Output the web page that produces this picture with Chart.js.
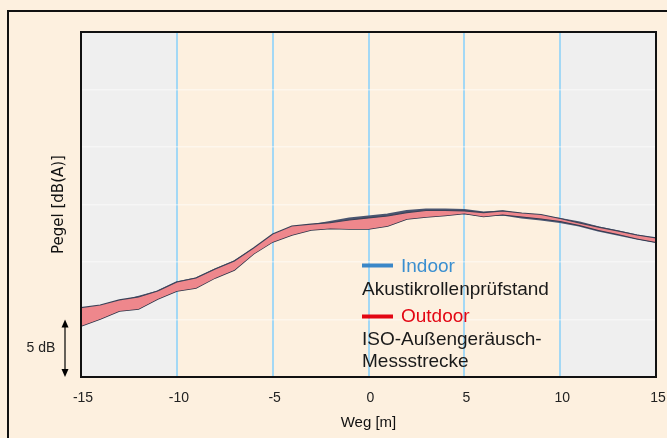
<!DOCTYPE html>
<html>
<head>
<meta charset="utf-8">
<script src="https://cdn.jsdelivr.net/npm/chart.js@4/dist/chart.umd.min.js"></script>
<style>
  html, body { margin: 0; padding: 0; background: #fdf0df; overflow: hidden; }
  #wrap { position: relative; width: 667px; height: 438px; }
  #frame { position: absolute; left: 7px; top: 10px; width: 700px; height: 460px; border: 2px solid #111; box-sizing: border-box; }
  canvas { position: absolute; left: 0; top: 0; }
</style>
</head>
<body>
<div id="wrap">
  <div id="frame"></div>
  <canvas id="c" width="667" height="438"></canvas>
</div>
<script>
// Weg [m]
const weg = [-15,-14,-13,-12,-11,-10,-9,-8,-7,-6,-5,-4,-3,-2,-1,0,1,2,3,4,5,6,7,8,9,10,11,12,13,14,15];
// Pegel, relative dB(A) (axis has no absolute labels; 5 dB per grid line)
const indoor = [5.48,5.87,6.35,6.83,7.30,8.09,8.44,9.22,9.91,10.96,12.09,12.61,13.04,13.35,13.65,13.83,14.00,14.30,14.44,14.44,14.39,14.17,14.26,14.00,13.83,13.61,13.30,12.87,12.52,12.17,11.87];
const outdoorMax = [6.03,6.26,6.70,6.96,7.48,8.26,8.61,9.39,10.09,11.22,12.44,13.13,13.30,13.43,13.65,13.83,14.00,14.30,14.48,14.48,14.44,14.30,14.44,14.26,14.13,13.78,13.39,13.04,12.70,12.35,12.09];
const outdoorMin = [4.43,5.04,5.74,5.91,6.78,7.48,7.74,8.61,9.30,10.70,11.74,12.35,12.78,12.91,12.87,12.87,13.13,13.74,13.91,14.04,14.22,13.96,14.13,13.96,13.78,13.57,13.22,12.78,12.44,12.04,11.74];
const xTicks = [-15,-10,-5,0,5,10,15];
const innerRange = [-10, 10];
const scaleBarDb = 5;

const toXY = arr => weg.map((x, i) => ({x: x, y: arr[i]}));

const bgPlugin = {
  id: 'bg',
  beforeDraw(chart) {
    const {ctx, chartArea: a, scales: {x}} = chart;
    const x1 = x.getPixelForValue(innerRange[0]);
    const x2 = x.getPixelForValue(innerRange[1]);
    ctx.save();
    ctx.fillStyle = '#efefef';
    ctx.fillRect(a.left, a.top, x1 - a.left, a.bottom - a.top);
    ctx.fillRect(x2, a.top, a.right - x2, a.bottom - a.top);
    ctx.restore();
  },
  afterDatasetsDraw(chart) {
    const {ctx, chartArea: a, scales: {y}} = chart;
    ctx.save();
    ctx.strokeStyle = '#111';
    ctx.lineWidth = 2;
    ctx.strokeRect(a.left, a.top, a.right - a.left, a.bottom - a.top);
    // 5 dB scale bar
    const ya = y.getPixelForValue(0), yb = y.getPixelForValue(scaleBarDb);
    const ax = 65;
    ctx.strokeStyle = '#000'; ctx.fillStyle = '#000'; ctx.lineWidth = 1.2;
    ctx.beginPath(); ctx.moveTo(ax, yb + 3); ctx.lineTo(ax, ya - 3); ctx.stroke();
    ctx.beginPath(); ctx.moveTo(ax, yb); ctx.lineTo(ax - 3.5, yb + 8); ctx.lineTo(ax + 3.5, yb + 8); ctx.closePath(); ctx.fill();
    ctx.beginPath(); ctx.moveTo(ax, ya); ctx.lineTo(ax - 3.5, ya - 8); ctx.lineTo(ax + 3.5, ya - 8); ctx.closePath(); ctx.fill();
    ctx.font = '14px "Liberation Sans", sans-serif';
    ctx.textAlign = 'center'; ctx.textBaseline = 'middle';
    ctx.fillStyle = '#222';
    ctx.fillText('5 dB', 41, (ya + yb) / 2);
    // legend
    const lx = 362;
    ctx.lineWidth = 4;
    ctx.strokeStyle = '#3a87c8';
    ctx.beginPath(); ctx.moveTo(lx, 265.5); ctx.lineTo(lx + 31, 265.5); ctx.stroke();
    ctx.strokeStyle = '#e30613';
    ctx.beginPath(); ctx.moveTo(lx, 316.5); ctx.lineTo(lx + 31, 316.5); ctx.stroke();
    ctx.textAlign = 'left'; ctx.textBaseline = 'alphabetic';
    ctx.font = '19px "Liberation Sans", sans-serif';
    ctx.fillStyle = '#3a8fd0'; ctx.fillText('Indoor', 401, 272);
    ctx.fillStyle = '#e30613'; ctx.fillText('Outdoor', 401, 322);
    ctx.fillStyle = '#1a1a1a';
    ctx.fillText('Akustikrollenprüfstand', lx, 295);
    ctx.fillText('ISO-Außengeräusch-', lx, 345);
    ctx.fillText('Messstrecke', lx, 367);
    ctx.restore();
  }
};

new Chart(document.getElementById('c'), {
  type: 'line',
  data: {
    datasets: [
      { label: 'Outdoor max', data: toXY(outdoorMax), borderColor: '#3a4258', borderWidth: 1.2, backgroundColor: '#ee878c', fill: '+1', pointRadius: 0, tension: 0 },
      { label: 'Outdoor min', data: toXY(outdoorMin), borderColor: '#2b3348', borderWidth: 1.4, fill: false, pointRadius: 0, tension: 0 },
      { label: 'Indoor outline', data: toXY(indoor), borderColor: '#4a5570', borderWidth: 5, fill: false, pointRadius: 0, tension: 0 },
      { label: 'Indoor', data: toXY(indoor), borderColor: '#8aa2cb', borderWidth: 3, fill: false, pointRadius: 0, tension: 0 }
    ]
  },
  plugins: [bgPlugin],
  options: {
    responsive: false,
    animation: false,
    events: [],
    layout: { padding: { left: 0, right: 11, top: 32, bottom: 0 } },
    plugins: { legend: { display: false }, tooltip: { enabled: false } },
    scales: {
      x: {
        type: 'linear', min: -15, max: 15,
        afterBuildTicks: s => { s.ticks = xTicks.map(v => ({value: v})); },
        afterFit: s => { s.height = 61; s.paddingLeft = 0; s.paddingRight = 0; },
        grid: {
          color: c => (c.tick && Math.abs(c.tick.value) === 15) ? 'rgba(0,0,0,0)' : '#a3d8f5',
          lineWidth: 2, drawTicks: false
        },
        border: { color: '#111', width: 2 },
        ticks: { padding: 13, labelOffset: 2, color: '#222', font: { family: '"Liberation Sans", sans-serif', size: 14 }, maxRotation: 0 },
        title: { display: true, text: 'Weg [m]', color: '#111', font: { family: '"Liberation Sans", sans-serif', size: 15 }, padding: { top: 0, bottom: 6 } }
      },
      y: {
        type: 'linear', min: 0, max: 30,
        ticks: { display: false, stepSize: 5 },
        afterFit: s => { s.width = 81; s.paddingTop = 0; s.paddingBottom = 0; },
        grid: { color: 'rgba(255,255,255,0.45)', lineWidth: 1.5, drawTicks: false },
        border: { color: '#111', width: 2 },
        title: { display: true, text: 'Pegel [dB(A)]', color: '#111', font: { family: '"DejaVu Sans", sans-serif', size: 15 }, padding: { top: 50, bottom: 0 } }
      }
    }
  }
});
</script>
</body>
</html>
